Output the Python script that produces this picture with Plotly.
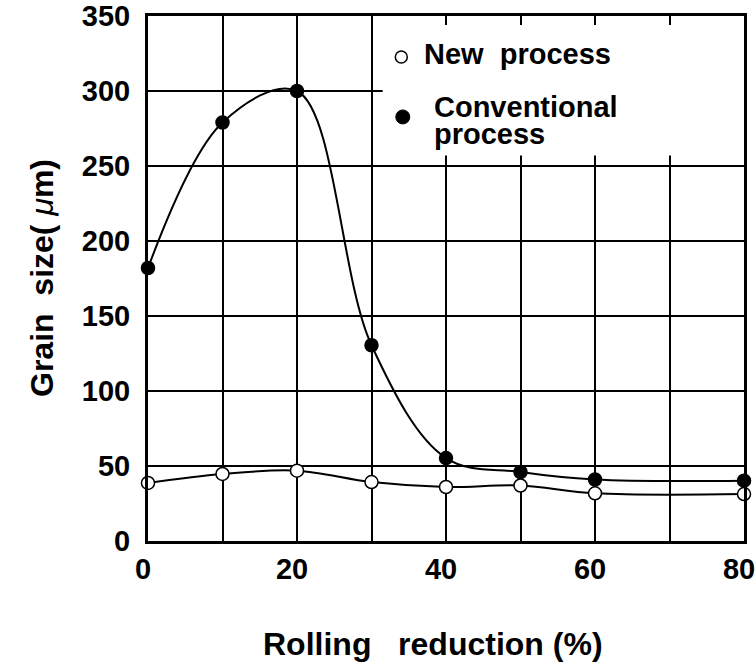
import plotly.graph_objects as go

# ---- data ----
reduction_new = [0, 10, 20, 30, 40, 50, 60, 80]
grain_new = [38.7, 44.7, 46.9, 39.3, 36.0, 37.0, 31.8, 31.3]

reduction_conv = [0, 10, 20, 30, 40, 50, 60, 80]
grain_conv = [182, 279, 300, 130.5, 55.3, 46.0, 41.0, 40.2]

x_tick_vals = [0, 10, 20, 30, 40, 50, 60, 70, 80]
x_tick_text = ["0", "", "20", "", "40", "", "60", "", "80"]
y_tick_vals = [0, 50, 100, 150, 200, 250, 300, 350]
y_tick_text = ["0", "50", "100", "150", "200", "250", "300", "350"]

legend_new = "New  process"
legend_conv_1 = "Conventional"
legend_conv_2 = "process"

FONT = "Liberation Sans"

fig = go.Figure()

fig.add_trace(go.Scatter(
    x=reduction_conv, y=grain_conv, mode="lines+markers",
    line=dict(color="black", width=2, shape="spline", smoothing=1.0),
    marker=dict(symbol="circle", size=13, color="black",
                line=dict(color="black", width=1.5)),
    cliponaxis=False, showlegend=False,
))
fig.add_trace(go.Scatter(
    x=reduction_new, y=grain_new, mode="lines+markers",
    line=dict(color="black", width=2, shape="spline", smoothing=1.0),
    marker=dict(symbol="circle", size=13, color="white",
                line=dict(color="black", width=1.5)),
    cliponaxis=False, showlegend=False,
))

shapes = [
    # white legend area covering the grid
    dict(type="rect", xref="x", yref="y", x0=31.5, x1=80, y0=257, y1=344,
         fillcolor="white", line=dict(width=0), layer="between"),
    # legend symbols
    dict(type="circle", xref="x", yref="y", xsizemode="pixel", ysizemode="pixel",
         xanchor=34.0, yanchor=322.7, x0=-6, x1=6, y0=-6, y1=6,
         fillcolor="white", line=dict(color="black", width=1.5)),
    dict(type="circle", xref="x", yref="y", xsizemode="pixel", ysizemode="pixel",
         xanchor=34.2, yanchor=282.7, x0=-7, x1=7, y0=-7, y1=7,
         fillcolor="black", line=dict(color="black", width=1)),
]

def px_x(p):
    return (p - 148) / 596

def px_y(p):
    return (541 - p) / 525

legend_font = dict(family=FONT, size=29, color="black", weight="bold")
annotations = [
    dict(text=legend_new, xref="paper", yref="paper",
         x=px_x(422), y=px_y(54), xanchor="left", yanchor="middle",
         showarrow=False, font=legend_font),
    dict(text=legend_conv_1, xref="paper", yref="paper",
         x=px_x(432), y=px_y(107), xanchor="left", yanchor="middle",
         showarrow=False, font=legend_font),
    dict(text=legend_conv_2, xref="paper", yref="paper",
         x=px_x(432), y=px_y(134), xanchor="left", yanchor="middle",
         showarrow=False, font=legend_font),
    dict(text="Rolling   reduction (%)", xref="paper", yref="paper",
         x=px_x(433), y=px_y(644), xanchor="center", yanchor="middle",
         showarrow=False, font=dict(family=FONT, size=32, color="black", weight="bold")),
    dict(text="Grain  size( <i style='font-weight:normal'>μ</i>m)", xref="paper", yref="paper",
         x=px_x(42), y=px_y(278), xanchor="center", yanchor="middle",
         textangle=-90, showarrow=False,
         font=dict(family=FONT, size=32, color="black", weight="bold")),
]

tick_font = dict(family=FONT, size=29, color="black", weight="bold")

fig.update_layout(
    width=756, height=666,
    margin=dict(l=148, r=12, t=16, b=125, autoexpand=False),
    paper_bgcolor="white", plot_bgcolor="white",
    shapes=shapes, annotations=annotations,
    xaxis=dict(range=[0, 80], tickvals=x_tick_vals, ticktext=x_tick_text,
               showgrid=True, gridcolor="black", gridwidth=1.5,
               showline=True, linecolor="black", linewidth=3, mirror=True,
               ticks="", zeroline=False, ticklabelshift=-5, automargin=False,
               ticklabeloverflow="allow", tickfont=tick_font),
    yaxis=dict(range=[0, 350], tickvals=y_tick_vals, ticktext=y_tick_text,
               showgrid=True, gridcolor="black", gridwidth=1.5,
               showline=True, linecolor="black", linewidth=3, mirror=True,
               ticks="", zeroline=False, ticklabelstandoff=9, automargin=False,
               tickfont=tick_font),
)

fig.write_html("out.html")
